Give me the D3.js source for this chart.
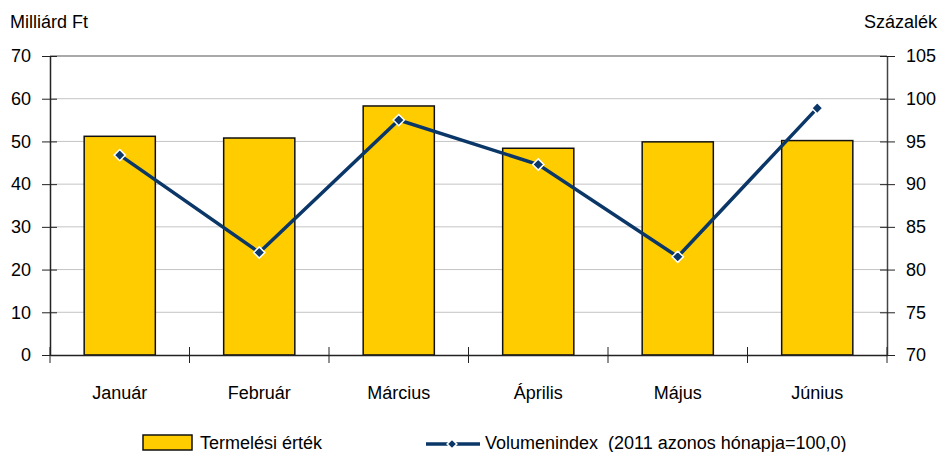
<!DOCTYPE html>
<html>
<head>
<meta charset="utf-8">
<script src="https://cdn.jsdelivr.net/npm/d3@7"></script>
<style>
  body { margin: 0; background: #fff; }
  svg text { font-family: "Liberation Sans", Arial, sans-serif; font-size: 18px; fill: #000; }
</style>
</head>
<body>
<div id="chart"></div>
<script>
// chart data
var months = ["Január", "Február", "Március", "Április", "Május", "Június"];
var termelesiErtek = [51.2, 50.8, 58.3, 48.4, 49.9, 50.2];
var volumenIndex = [93.4, 82.0, 97.5, 92.3, 81.5, 98.9];
var leftTicks = [0, 10, 20, 30, 40, 50, 60, 70];
var rightTicks = [70, 75, 80, 85, 90, 95, 100, 105];

var svgWidth = 939;
var svgHeight = 452;

var margin = { top: 56, right: 52, bottom: 97, left: 50 };
var width = svgWidth - margin.left - margin.right;
var height = svgHeight - margin.top - margin.bottom;

var svg = d3.select("#chart")
  .append("svg")
  .attr("width", svgWidth)
  .attr("height", svgHeight);

var chartGroup = svg.append("g")
  .attr("transform", `translate(${margin.left}, ${margin.top})`);

// scales
var xBand = d3.scaleBand()
  .domain(months)
  .range([0, width])
  .padding(0);

var yLeft = d3.scaleLinear()
  .domain([0, 70])
  .range([height, 0]);

var yRight = d3.scaleLinear()
  .domain([70, 105])
  .range([height, 0]);

// gridlines
chartGroup.selectAll(".grid")
  .data(leftTicks.filter(d => d > 0))
  .enter()
  .append("line")
  .attr("x1", 0)
  .attr("x2", width)
  .attr("y1", d => yLeft(d))
  .attr("y2", d => yLeft(d))
  .attr("stroke", d => d === 70 ? "#8c8c8c" : "#c4c4c4")
  .attr("stroke-width", d => d === 70 ? 1.5 : 1);

// bars
var barWidth = xBand.bandwidth() * 0.51;
chartGroup.selectAll(".bar")
  .data(termelesiErtek)
  .enter()
  .append("rect")
  .attr("x", (d, i) => xBand(months[i]) + xBand.bandwidth() / 2 - barWidth / 2)
  .attr("y", d => yLeft(d))
  .attr("width", barWidth)
  .attr("height", d => height - yLeft(d))
  .attr("fill", "#ffcc00")
  .attr("stroke", "#111")
  .attr("stroke-width", 1.5);

// axes
var leftAxis = d3.axisLeft(yLeft)
  .tickValues(leftTicks)
  .tickSizeInner(8)
  .tickSizeOuter(0)
  .tickPadding(11);

var rightAxis = d3.axisRight(yRight)
  .tickValues(rightTicks)
  .tickSizeInner(8)
  .tickSizeOuter(0)
  .tickPadding(11);

var bottomAxis = d3.axisBottom(xBand)
  .tickSize(0)
  .tickPadding(31);

var gl = chartGroup.append("g").call(leftAxis);
gl.select(".domain").attr("stroke", "#222").attr("stroke-width", 1.5);
gl.selectAll(".tick line").attr("stroke", "#222").attr("x2", 7).attr("x1", -8);
gl.selectAll(".tick text").style("font-size", "18px");

var gr = chartGroup.append("g")
  .attr("transform", `translate(${width}, 0)`)
  .call(rightAxis);
gr.select(".domain").attr("stroke", "#444").attr("stroke-width", 1.5);
gr.selectAll(".tick line").attr("stroke", "#222").attr("x1", -7).attr("x2", 8);
gr.selectAll(".tick text").style("font-size", "18px");

var gb = chartGroup.append("g")
  .attr("transform", `translate(0, ${height})`)
  .call(bottomAxis);
gb.select(".domain").attr("stroke", "#222").attr("stroke-width", 1.5);
gb.selectAll(".tick text").style("font-size", "18px");

// category separator ticks
chartGroup.selectAll(".sep")
  .data(d3.range(months.length + 1))
  .enter()
  .append("line")
  .attr("x1", i => i * xBand.step())
  .attr("x2", i => i * xBand.step())
  .attr("y1", height - 8)
  .attr("y2", height + 8)
  .attr("stroke", "#222")
  .attr("stroke-width", 1);

// volume index line
var line = d3.line()
  .x((d, i) => xBand(months[i]) + xBand.bandwidth() / 2)
  .y(d => yRight(d));

chartGroup.append("path")
  .datum(volumenIndex)
  .attr("d", line)
  .attr("fill", "none")
  .attr("stroke", "#0a3768")
  .attr("stroke-width", 3.5);

var diamond = d3.symbol().type(d3.symbolDiamond2).size(80);
chartGroup.selectAll(".marker")
  .data(volumenIndex)
  .enter()
  .append("path")
  .attr("d", diamond)
  .attr("transform", (d, i) => `translate(${xBand(months[i]) + xBand.bandwidth() / 2}, ${yRight(d)})`)
  .attr("fill", "#0a3768")
  .attr("stroke", "#fff")
  .attr("stroke-width", 1.5);

// axis titles
svg.append("text")
  .attr("x", 10)
  .attr("y", 28)
  .text("Milliárd Ft");

svg.append("text")
  .attr("x", 937)
  .attr("y", 28)
  .attr("text-anchor", "end")
  .text("Százalék");

// legend
var legend = svg.append("g");
legend.append("rect")
  .attr("x", 143)
  .attr("y", 435)
  .attr("width", 49)
  .attr("height", 15)
  .attr("fill", "#ffcc00")
  .attr("stroke", "#111")
  .attr("stroke-width", 1.5);
legend.append("text")
  .attr("x", 200)
  .attr("y", 449)
  .text("Termelési érték");

legend.append("line")
  .attr("x1", 426)
  .attr("x2", 480)
  .attr("y1", 444)
  .attr("y2", 444)
  .attr("stroke", "#0a3768")
  .attr("stroke-width", 3.5);
legend.append("path")
  .attr("d", d3.symbol().type(d3.symbolDiamond2).size(60))
  .attr("transform", "translate(452, 444)")
  .attr("fill", "#0a3768")
  .attr("stroke", "#fff")
  .attr("stroke-width", 1.5);
legend.append("text")
  .attr("x", 485)
  .attr("y", 449)
  .attr("xml:space", "preserve")
  .text("Volumenindex  (2011 azonos hónapja=100,0)");
</script>
</body>
</html>
